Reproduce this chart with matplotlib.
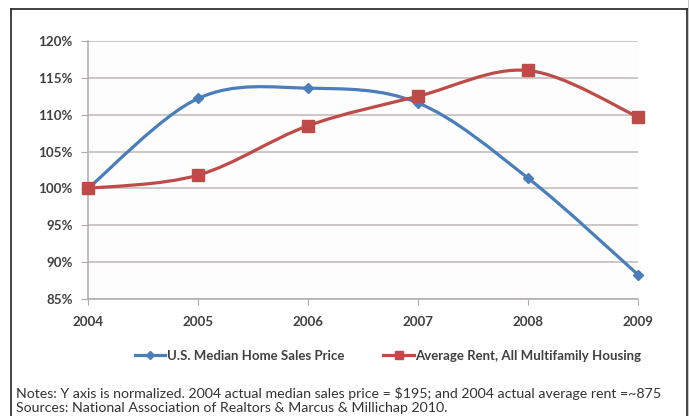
import matplotlib
matplotlib.use("Agg")
import matplotlib.pyplot as plt
from matplotlib.path import Path
from matplotlib.patches import PathPatch, Rectangle
from matplotlib.lines import Line2D
import numpy as np

years = [2004, 2005, 2006, 2007, 2008, 2009]
home_price = [100.0, 112.2, 113.6, 111.6, 101.4, 88.3]
avg_rent = [100.0, 101.8, 108.5, 112.5, 116.0, 109.7]
yticks = [85, 90, 95, 100, 105, 110, 115, 120]
ytick_labels = ["85%", "90%", "95%", "100%", "105%", "110%", "115%", "120%"]
series_names = ["U.S. Median Home Sales Price", "Average Rent, All Multifamily Housing"]
notes = ["Notes: Y axis is normalized. 2004 actual median sales price = $195; and 2004 actual average rent =~875",
         "Sources: National Association of Realtors & Marcus & Millichap 2010."]

BLUE = "#4a7ebb"
RED = "#be4b48"
TXT = "#404040"
GRID = "#bfb8b8"

W, H = 689, 416
fig = plt.figure(figsize=(W / 100, H / 100), dpi=100)
fig.patch.set_facecolor("white")

ax = fig.add_axes([88 / W, 1 - 299 / H, (638 - 88) / W, (299 - 41) / H])
ax.set_facecolor("#fdfdfd")


def smooth_path(xs, ys):
    pts = np.column_stack([xs, ys]).astype(float)
    n = len(pts)
    verts = [pts[0]]
    codes = [Path.MOVETO]
    for i in range(n - 1):
        p0 = pts[i - 1] if i > 0 else pts[i]
        p1 = pts[i]
        p2 = pts[i + 1]
        p3 = pts[i + 2] if i + 2 < n else pts[i + 1]
        c1 = p1 + (p2 - p0) / 6.0
        c2 = p2 - (p3 - p1) / 6.0
        verts += [c1, c2, p2]
        codes += [Path.CURVE4] * 3
    return Path(verts, codes)


for vals, col, mk, ms in [(home_price, BLUE, "D", 5), (avg_rent, RED, "s", 8)]:
    patch = PathPatch(smooth_path(years, vals), facecolor="none", edgecolor=col,
                      lw=2.3, zorder=3, capstyle="round", joinstyle="round")
    ax.add_patch(patch)
    ax.plot(years, vals, linestyle="none", marker=mk, ms=ms, color=col,
            markeredgecolor=col, zorder=4, clip_on=False)

ax.set_xlim(2004, 2009)
ax.set_ylim(85, 120)
ax.set_yticks(yticks)
ax.set_yticklabels(ytick_labels)
ax.set_xticks(years)
ax.set_xticklabels([str(y) for y in years])
ax.yaxis.grid(True, color=GRID, lw=1.1)
ax.set_axisbelow(True)
for s in ["top", "right"]:
    ax.spines[s].set_visible(False)
for s in ["left", "bottom"]:
    ax.spines[s].set_color("#b0aaaa")
    ax.spines[s].set_linewidth(1.1)
ax.tick_params(axis="y", length=5, color="#b0aaaa", pad=6, labelsize=9.6, labelcolor=TXT)
ax.tick_params(axis="x", length=4, color="#b0aaaa", pad=8, labelsize=9.6, labelcolor=TXT)
for lab in ax.get_xticklabels() + ax.get_yticklabels():
    lab.set_fontfamily("Lato")
    lab.set_fontweight("bold")

handles = [Line2D([], [], color=BLUE, lw=2.3, marker="D", ms=4),
           Line2D([], [], color=RED, lw=2.3, marker="s", ms=6)]
leg = fig.legend(handles, series_names, loc="center", bbox_to_anchor=(388 / W, 1 - 356 / H),
                 ncol=2, frameon=False, columnspacing=3.0, handlelength=2.3, handletextpad=0.1,
                 prop={"family": "Lato", "weight": "bold", "size": 9.5})
for t in leg.get_texts():
    t.set_color(TXT)

t1 = fig.text(16 / W, 1 - 393 / H, notes[0], ha="left", va="center", fontsize=9,
              family="Lato", color="#333333")
t2 = fig.text(16 / W, 1 - 408 / H, notes[1], ha="left", va="center", fontsize=9,
              family="Lato", color="#333333")
# fit first note line to its width in the reference (~652 px)
renderer = fig.canvas.get_renderer()
w0 = t1.get_window_extent(renderer).width
fs = 9 * 650.0 / w0
t1.set_fontsize(fs)
t2.set_fontsize(fs)

# outer frame
frame_kw = dict(transform=fig.transFigure, color="#222222", lw=1.2, clip_on=False)
fig.add_artist(Line2D([11 / W, 687 / W], [1 - 9 / H, 1 - 9 / H], **frame_kw))
fig.add_artist(Line2D([11 / W, 11 / W], [1 - 9 / H, 0], **frame_kw))
fig.add_artist(Line2D([687 / W, 687 / W], [1 - 9 / H, 0], **frame_kw))
fig.add_artist(Rectangle((688 / W, 0), 1 / W, 1, transform=fig.transFigure,
                         facecolor="#c8c8c8", edgecolor="none"))

fig.savefig("out.png", dpi=100)
